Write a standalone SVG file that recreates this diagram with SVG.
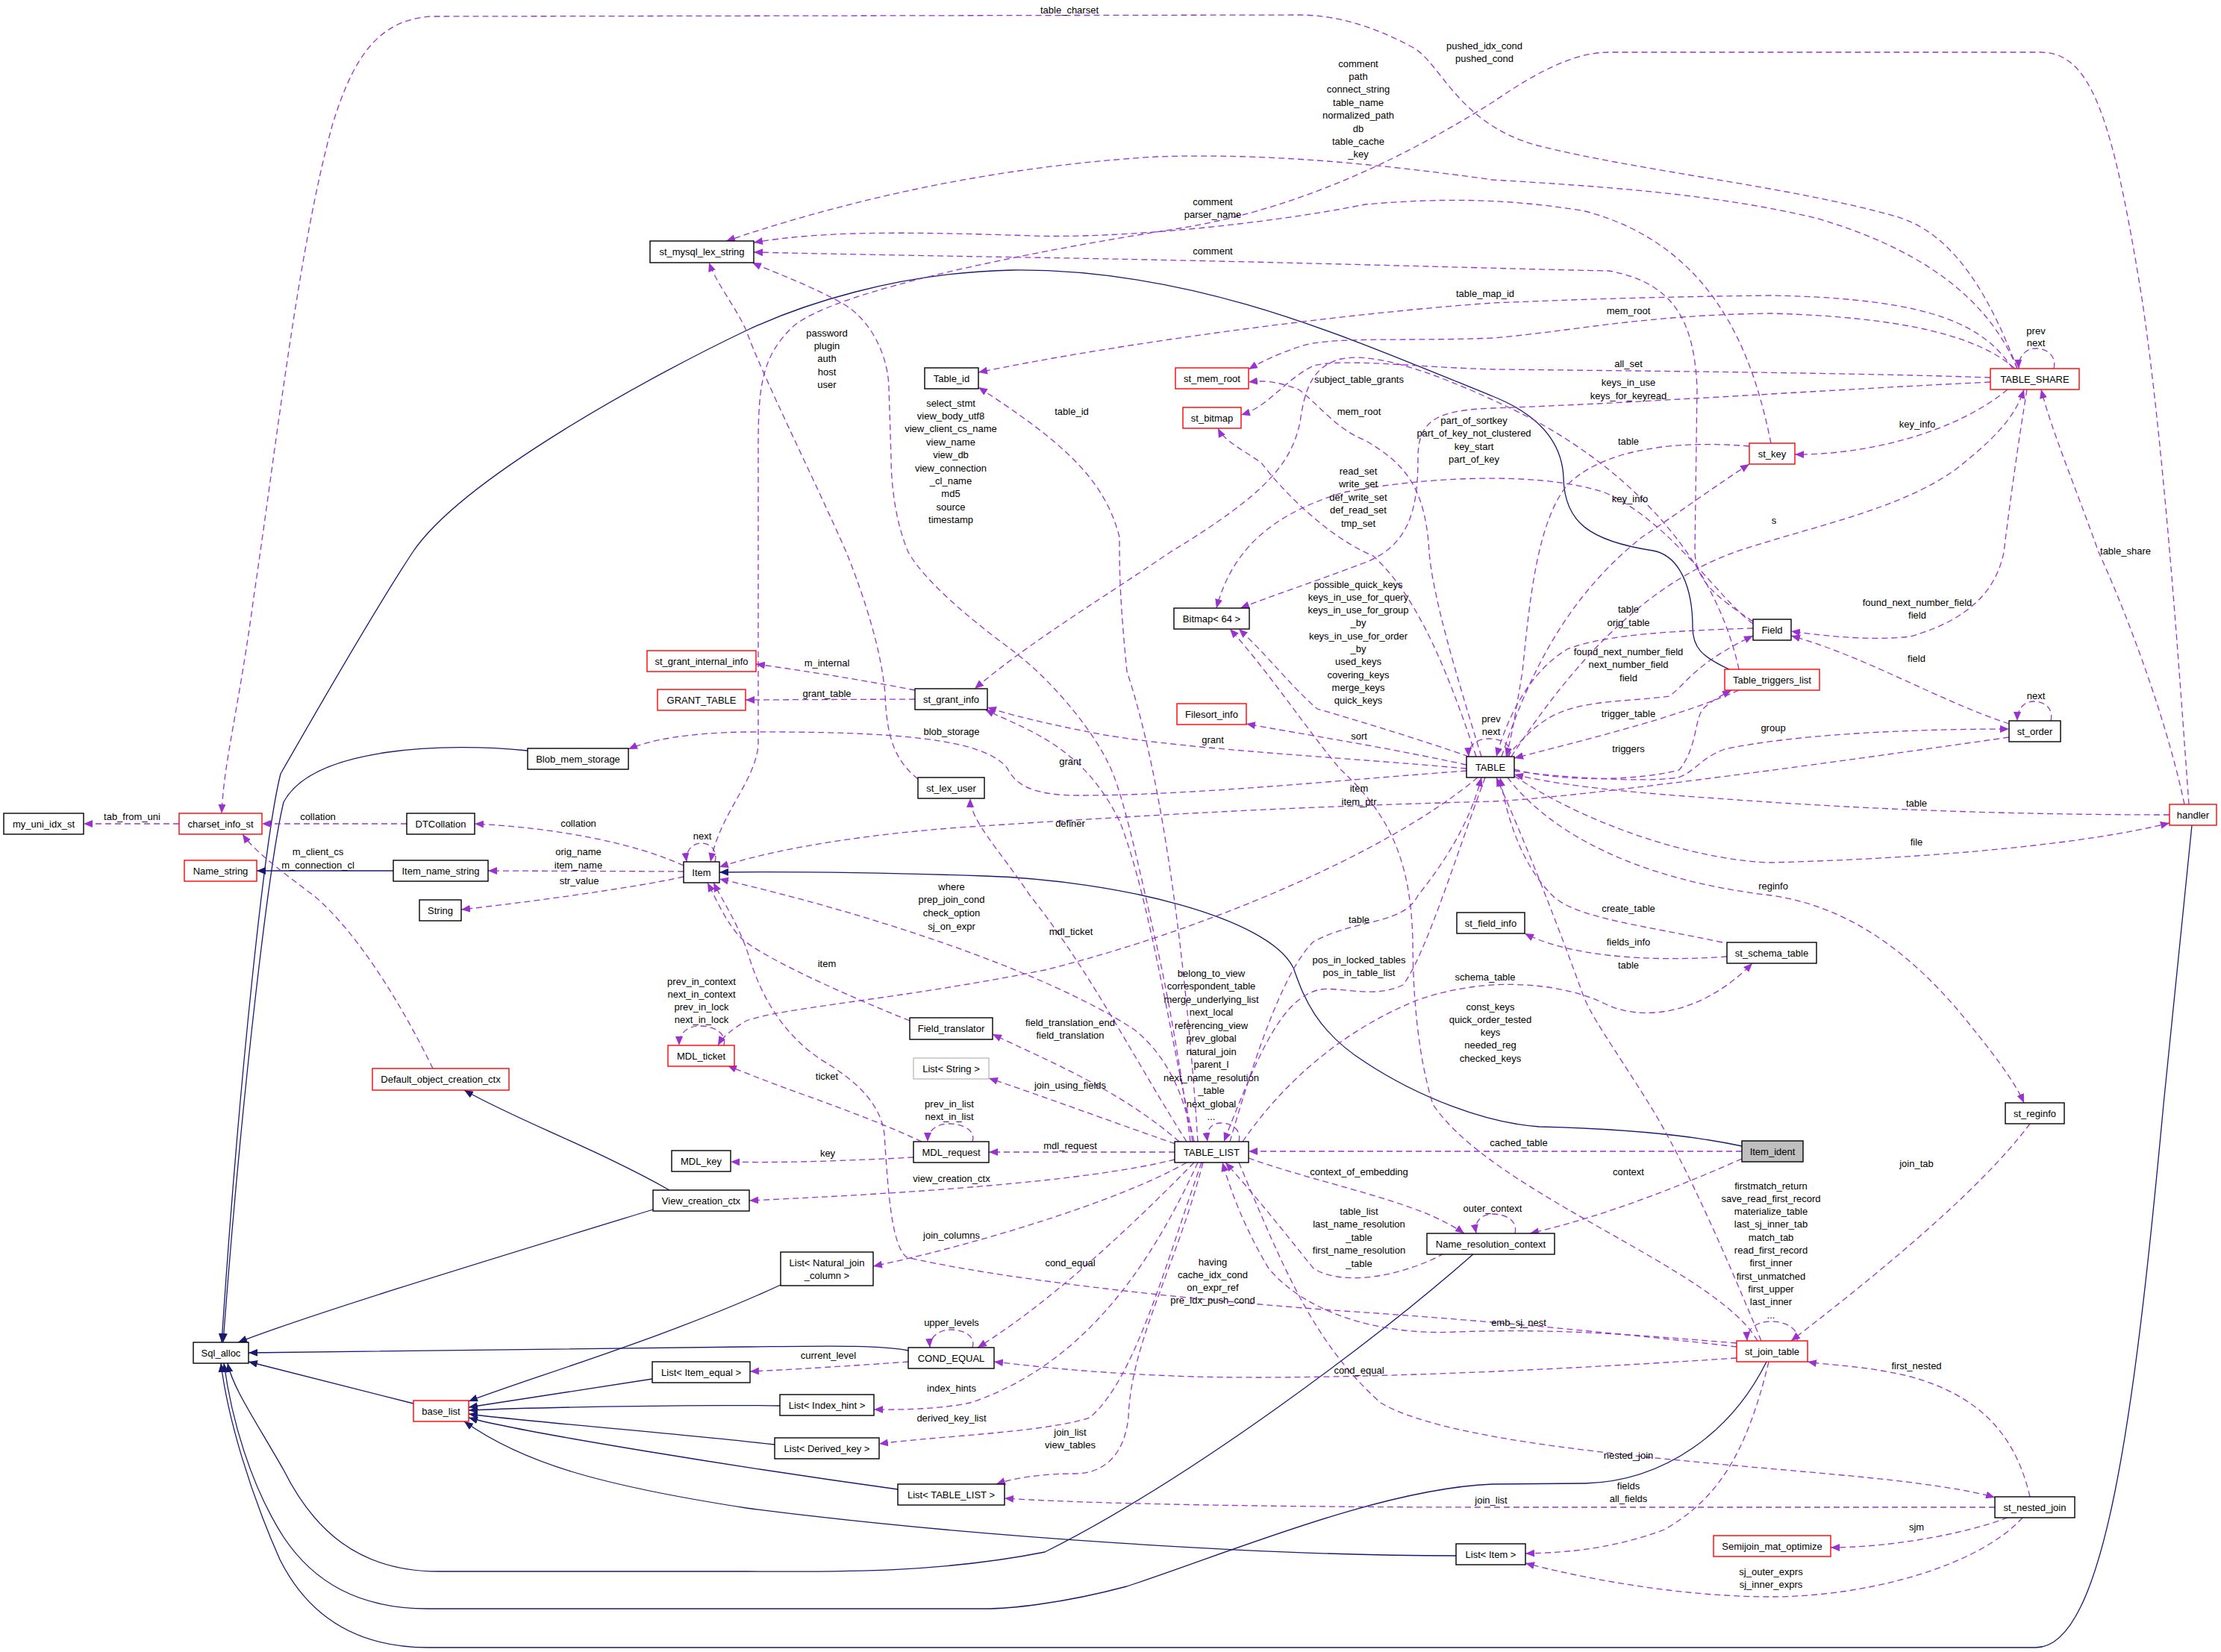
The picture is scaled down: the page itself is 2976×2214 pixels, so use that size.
<svg xmlns="http://www.w3.org/2000/svg" width="2976" height="2214" viewBox="0 0 2976 2214">
<style>
text{font-family:"Liberation Sans",Arial,Helvetica,sans-serif;font-size:13px;text-anchor:middle;fill:#000}
.n rect{fill:#fff;stroke:#000;stroke-width:1.4}
.n.r rect{stroke:#ff0000}
.n.g rect{stroke:#bfbfbf}
.n.f rect{fill:#bfbfbf}
.e{fill:none;stroke:#9a32cd;stroke-width:1.3;stroke-dasharray:8,5;marker-end:url(#ap)}
.i{fill:none;stroke:#191970;stroke-width:1.3;marker-end:url(#ab)}
</style>
<defs>
<marker id="ap" markerUnits="userSpaceOnUse" markerWidth="12" markerHeight="10" viewBox="0 0 12 10" refX="12" refY="5" orient="auto"><path d="M0,0 L12,5 L0,10 z" fill="#9a32cd"/></marker>
<marker id="ab" markerUnits="userSpaceOnUse" markerWidth="12" markerHeight="10" viewBox="0 0 12 10" refX="12" refY="5" orient="auto"><path d="M0,0 L12,5 L0,10 z" fill="#191970"/></marker>
</defs>
<rect width="2976" height="2214" fill="#fff"/>

<g id="connectors">
<path class="i" d="M2317,897 C2280,880 2268,868 2268,840 C2268,790 2252,745 2215,738 C2130,725 2096,700 2095,640 C2093,590 2060,555 2000,531 C1800,450 1600,360 1357,362 C1200,365 1070,410 1000,443 C880,500 620,640 553,740 C500,820 420,960 376,1037 C355,1120 320,1450 297,1799"/>
<path class="i" d="M707,1006 C600,995 420,1000 380,1075 C362,1150 325,1450 299,1799"/>
<path class="i" d="M527,1167 L344,1167"/>
<path class="i" d="M2334,1536 C2250,1518 2150,1512 2062,1510 C1990,1505 1900,1470 1830,1424 C1760,1380 1745,1330 1733,1297 C1700,1230 1500,1180 1319,1174 C1200,1170 1060,1168 964,1169"/>
<path class="i" d="M897,1595 C800,1540 690,1500 622,1461"/>
<path class="i" d="M875,1621 C650,1690 420,1760 319,1799"/>
<path class="i" d="M554,1881 L333,1825"/>
<path class="i" d="M1217,1810 C1180,1802 1100,1804 1000,1805 L333,1813"/>
<path class="i" d="M874,1848 L628,1886"/>
<path class="i" d="M1046,1722 C900,1790 700,1850 628,1878"/>
<path class="i" d="M1045,1884 C900,1882 700,1887 628,1890"/>
<path class="i" d="M1038,1936 C900,1920 700,1905 628,1895"/>
<path class="i" d="M1203,1996 C1000,1968 700,1920 628,1900"/>
<path class="i" d="M1951,2085 C1700,2085 1300,2060 1000,2021 C800,1990 700,1960 622,1905"/>
<path class="i" d="M1975,1680 C1850,1790 1600,1980 1400,2080 C1250,2110 1100,2106 1000,2106 L587,2106 C480,2106 420,2050 380,1970 C340,1900 312,1860 305,1827"/>
<path class="i" d="M2367,1825 C2320,1920 2230,1985 2124,1988 L2000,1989 C1850,1995 1650,2080 1510,2126 C1420,2150 1350,2156 1319,2156 L574,2156 C480,2156 420,2120 380,2060 C335,1990 310,1900 300,1827"/>
<path class="i" d="M2937,1106 L2899,1480 C2860,1900 2820,2208 2728,2208 L574,2208 C470,2208 410,2160 375,2090 C335,2000 305,1900 296,1827"/>

<path class="e" d="M2703,494 C2660,380 2610,310 2540,290 C2400,250 2200,230 2060,195 C1950,165 1930,80 1890,62 C1840,35 1790,20 1740,20 L580,22 C500,25 470,90 446,165 C400,330 370,600 340,800 C320,950 300,1020 297,1090"/>
<path class="e" d="M2933,1078 C2920,900 2900,600 2870,400 C2830,150 2800,70 2734,70 L2156,70 C2100,70 2040,110 2000,137 C1900,200 1750,280 1574,307 C1300,350 1100,400 1060,440 C1020,480 1016,520 1016,600 L1016,1000 C1010,1050 965,1090 952,1155"/>
<path class="e" d="M2703,494 C2660,390 2560,330 2436,293 C2300,260 2150,250 2000,241 C1850,220 1700,205 1550,210 C1300,225 1100,280 973,323"/>
<path class="e" d="M2373,594 C2350,480 2300,330 2124,283 C2000,262 1900,268 1829,274 C1700,300 1500,320 1383,316 C1200,310 1100,310 1010,325"/>
<path class="e" d="M2349,833 C2300,800 2273,780 2271,740 L2274,519 C2270,440 2250,380 2156,363 C2000,360 1700,350 1319,344 C1200,342 1100,340 1010,338"/>
<path class="e" d="M1230,1044 C1200,1020 1188,990 1186,930 C1180,860 1150,780 1134,740 C1090,640 1020,500 1000,443 C985,410 960,380 950,352"/>
<path class="e" d="M1595,1530 C1585,1450 1565,1330 1548,1259 C1530,1180 1505,1060 1485,1023 C1470,990 1420,920 1357,872 C1300,830 1240,780 1217,740 C1200,700 1194,650 1194,613 L1191,519 C1190,480 1170,430 1128,406 C1080,380 1030,362 1008,352"/>
<path class="e" d="M1605,1530 C1590,1300 1560,1050 1510,900 C1500,800 1500,760 1500,720 C1480,640 1420,590 1311,519"/>
<path class="e" d="M2697,494 C2660,440 2600,400 2373,396 C2200,398 2100,402 2000,406 C1800,420 1500,460 1311,499"/>
<path class="e" d="M2700,494 C2650,450 2550,425 2373,420 C2200,422 2100,445 2000,453 C1880,458 1780,450 1740,465 C1710,475 1690,485 1673,495"/>
<path class="e" d="M1985,1014 C1950,900 1920,800 1915,740 C1910,650 1880,620 1829,590 C1790,575 1765,540 1740,522 C1710,510 1690,510 1673,512"/>
<path class="e" d="M2667,506 C2500,500 2200,497 2000,495 C1900,492 1800,480 1760,490 C1720,510 1700,545 1663,556"/>
<path class="e" d="M2330,897 C2300,760 2200,640 2050,560 C1950,510 1850,470 1797,481 C1760,490 1748,520 1742,566 C1730,620 1700,660 1568,740 C1480,800 1380,860 1306,923"/>
<path class="e" d="M2667,512 C2400,525 2200,540 2000,547 C1930,550 1900,560 1900,613 C1900,680 1890,730 1829,754 C1760,780 1700,800 1662,815"/>
<path class="e" d="M1978,1014 C1940,900 1900,800 1840,745 C1780,720 1720,660 1690,620 C1660,600 1640,590 1632,574"/>
<path class="e" d="M2349,836 C2300,800 2240,700 2150,660 C2060,630 1900,640 1800,660 C1700,690 1650,740 1630,815"/>
<path class="e" d="M1968,1014 C1900,990 1800,960 1765,950 C1730,920 1700,880 1660,843"/>
<path class="e" d="M2355,1797 C2300,1700 2000,1600 1920,1480 C1895,1400 1893,1300 1893,1259 C1890,1150 1860,1090 1797,1032 C1760,990 1700,900 1648,843"/>
<path class="e" d="M1965,1025 C1850,1000 1750,985 1670,970"/>
<path class="e" d="M1965,1030 C1800,1015 1600,1005 1480,985 C1400,970 1350,957 1323,948"/>
<path class="e" d="M1965,1033 C1800,1045 1600,1066 1446,1066 C1380,1066 1360,1050 1350,1030 C1320,990 1200,980 1000,981 C920,982 870,992 842,1004"/>
<path class="e" d="M1600,1530 C1570,1400 1540,1200 1500,1100 C1450,1000 1380,980 1320,951"/>
<path class="e" d="M1590,1530 C1520,1420 1460,1300 1380,1200 C1340,1140 1300,1100 1300,1070"/>
<path class="e" d="M2692,988 C2400,1030 2100,1070 2000,1074 C1700,1082 1500,1095 1300,1108 C1150,1118 1030,1140 964,1162"/>
<path class="e" d="M1598,1530 C1590,1480 1570,1420 1520,1380 C1400,1300 1150,1220 964,1178"/>
<path class="e" d="M1219,1368 C1100,1320 1020,1280 995,1259 C975,1240 962,1210 948,1183"/>
<path class="e" d="M2327,1805 C2200,1790 2000,1770 1800,1757 C1500,1735 1300,1705 1215,1685 C1195,1670 1190,1600 1185,1520 C1180,1480 1150,1450 1100,1420 C1040,1380 1015,1320 1003,1280 C990,1240 970,1210 956,1183"/>
<path class="e" d="M1980,1042 C1850,1150 1600,1250 1400,1300 C1200,1340 1050,1350 1000,1368 C980,1380 968,1390 962,1401"/>
<path class="e" d="M1235,1530 C1150,1490 1050,1460 975,1428"/>
<path class="e" d="M970,1401 C974,1384 956,1375 938,1375 C920,1375 910,1385 910,1401"/>
<path class="e" d="M1303,1530 C1308,1515 1290,1506 1272,1506 C1255,1506 1243,1515 1243,1530"/>
<path class="e" d="M1224,1551 C1150,1555 1050,1559 979,1557"/>
<path class="e" d="M1574,1544 L1325,1544"/>
<path class="e" d="M1574,1554 C1450,1585 1200,1600 1004,1609"/>
<path class="e" d="M1580,1530 C1500,1460 1400,1420 1330,1386"/>
<path class="e" d="M1575,1533 C1480,1500 1400,1470 1325,1445"/>
<path class="e" d="M1660,1530 C1664,1512 1648,1505 1636,1505 C1622,1505 1616,1515 1618,1530"/>
<path class="e" d="M1648,1530 C1680,1420 1720,1300 1760,1262 C1820,1230 1880,1240 1900,1200 C1940,1150 1970,1100 1985,1042"/>
<path class="e" d="M1990,1042 C1950,1150 1910,1280 1880,1320 C1840,1340 1790,1320 1765,1327 C1720,1340 1690,1400 1640,1530"/>
<path class="e" d="M1665,1530 C1720,1450 1800,1380 1900,1340 C2000,1305 2100,1320 2150,1345 C2200,1370 2280,1360 2348,1291"/>
<path class="e" d="M2314,1282 C2200,1290 2100,1280 2043,1251"/>
<path class="e" d="M2308,1263 C2200,1240 2110,1230 2080,1200 C2040,1160 2020,1100 2010,1042"/>
<path class="e" d="M2360,1797 C2320,1700 2260,1560 2210,1480 C2160,1400 2130,1360 2120,1330 C2080,1220 2040,1120 2005,1042"/>
<path class="e" d="M2020,1042 C2080,1120 2200,1180 2373,1200 C2480,1215 2560,1280 2622,1352 C2670,1410 2700,1450 2712,1478"/>
<path class="e" d="M2720,1506 C2650,1600 2500,1720 2400,1797"/>
<path class="e" d="M2029,1040 C2150,1120 2300,1155 2373,1156 C2600,1150 2800,1130 2907,1103"/>
<path class="e" d="M2907,1092 C2700,1092 2500,1085 2300,1070 C2150,1060 2080,1050 2029,1038"/>
<path class="e" d="M2029,1033 C2070,1040 2200,1050 2249,1042 C2270,1035 2280,1015 2311,1004 C2400,985 2550,977 2692,977"/>
<path class="e" d="M2748,966 C2752,948 2738,940 2725,940 C2712,940 2703,950 2703,966"/>
<path class="e" d="M2692,970 C2600,940 2500,880 2400,852"/>
<path class="e" d="M2716,522 C2700,620 2690,700 2685,740 C2675,790 2640,830 2560,853 C2500,860 2430,850 2400,846"/>
<path class="e" d="M2349,842 C2250,845 2150,850 2100,870 C2050,900 2020,960 2005,1014"/>
<path class="e" d="M2019,1014 C2040,990 2062,966 2090,955 C2130,938 2187,940 2237,933 C2261,915 2270,890 2349,852"/>
<path class="e" d="M2330,925 C2250,960 2150,985 2029,1016"/>
<path class="e" d="M2029,1031 C2100,1050 2200,1045 2250,1032 C2275,1000 2270,965 2282,950 C2292,940 2305,933 2320,925"/>
<path class="e" d="M2022,1014 C2028,998 2012,990 1995,990 C1977,990 1967,1000 1968,1014"/>
<path class="e" d="M2012,1014 C2050,900 2100,800 2200,720 C2260,680 2300,650 2344,622"/>
<path class="e" d="M2344,598 C2250,590 2150,600 2100,650 C2060,700 2050,800 2040,900 C2030,960 2025,990 2018,1014"/>
<path class="e" d="M2690,522 C2620,580 2500,610 2405,609"/>
<path class="e" d="M2025,1014 C2100,900 2200,780 2336,736 C2450,700 2550,680 2622,628 C2670,590 2700,560 2712,522"/>
<path class="e" d="M2927,1078 C2900,950 2840,800 2812,740 C2780,650 2750,580 2735,522"/>
<path class="e" d="M2752,494 C2756,476 2742,467 2728,467 C2714,467 2704,478 2705,494"/>
<path class="e" d="M240,1104 L112,1104"/>
<path class="e" d="M545,1104 L351,1104"/>
<path class="e" d="M580,1432 C540,1350 480,1250 420,1200 C380,1170 340,1140 325,1118"/>
<path class="e" d="M916,1160 C850,1130 750,1110 636,1104"/>
<path class="e" d="M958,1155 C962,1140 952,1130 940,1130 C928,1130 918,1140 920,1155"/>
<path class="e" d="M916,1168 L654,1167"/>
<path class="e" d="M916,1175 C850,1190 700,1210 618,1219"/>
<path class="e" d="M1226,925 C1150,910 1050,895 1013,890"/>
<path class="e" d="M1226,937 L999,938"/>
<path class="e" d="M1590,1558 C1500,1610 1300,1670 1170,1697"/>
<path class="e" d="M1600,1558 C1500,1660 1400,1750 1310,1806"/>
<path class="e" d="M1303,1806 C1308,1790 1290,1782 1274,1782 C1258,1782 1245,1792 1246,1806"/>
<path class="e" d="M1217,1825 C1150,1830 1050,1836 1005,1838"/>
<path class="e" d="M2327,1820 C2100,1835 1800,1850 1600,1845 C1450,1840 1380,1830 1332,1825"/>
<path class="e" d="M1605,1558 C1540,1700 1450,1830 1300,1880 C1250,1890 1200,1889 1171,1889"/>
<path class="e" d="M1610,1558 C1560,1700 1520,1850 1460,1900 C1400,1920 1250,1925 1178,1935"/>
<path class="e" d="M1612,1558 C1575,1700 1515,1800 1512,1900 C1505,1960 1470,1975 1440,1975 C1400,1975 1360,1980 1335,1989"/>
<path class="e" d="M2673,2020 L2000,2020 C1700,2020 1450,2015 1346,2008"/>
<path class="e" d="M1660,1558 C1720,1700 1760,1800 1850,1880 C1950,1940 2300,1960 2500,1980 C2600,1990 2650,2000 2673,2007"/>
<path class="e" d="M1935,1680 C1880,1710 1800,1725 1760,1700 C1720,1650 1680,1600 1642,1558"/>
<path class="e" d="M1673,1552 C1750,1580 1850,1600 1920,1630 C1945,1642 1955,1648 1962,1653"/>
<path class="e" d="M2030,1653 C2034,1636 2018,1627 2000,1627 C1985,1627 1975,1637 1978,1653"/>
<path class="e" d="M2334,1553 C2250,1590 2150,1630 2050,1653"/>
<path class="e" d="M2334,1543 L1673,1543"/>
<path class="e" d="M2327,1800 C2200,1790 2100,1780 1950,1785 C1850,1790 1750,1760 1700,1700 C1670,1650 1650,1600 1638,1558"/>
<path class="e" d="M2408,1797 C2411,1780 2392,1771 2373,1771 C2355,1771 2340,1780 2341,1797"/>
<path class="e" d="M2720,2006 C2700,1920 2650,1870 2560,1845 C2500,1830 2450,1830 2422,1825"/>
<path class="e" d="M2370,1825 C2340,1950 2300,2010 2230,2050 C2150,2080 2080,2081 2044,2082"/>
<path class="e" d="M2690,2034 C2620,2060 2520,2074 2453,2074"/>
<path class="e" d="M2710,2034 C2650,2100 2500,2140 2373,2140 C2250,2140 2120,2115 2044,2095"/>
</g>

<g id="edge-labels">
<text x="1433" y="17.5">table_charset</text>
<text x="1989" y="65.5">pushed_idx_cond<tspan x="1989" dy="17.4">pushed_cond</tspan></text>
<text x="1820" y="89.5">comment<tspan x="1820" dy="17.4">path</tspan><tspan x="1820" dy="17.4">connect_string</tspan><tspan x="1820" dy="17.4">table_name</tspan><tspan x="1820" dy="17.4">normalized_path</tspan><tspan x="1820" dy="17.4">db</tspan><tspan x="1820" dy="17.4">table_cache</tspan><tspan x="1820" dy="17.4">_key</tspan></text>
<text x="1625" y="274.5">comment<tspan x="1625" dy="17.4">parser_name</tspan></text>
<text x="1625" y="340.5">comment</text>
<text x="1108" y="450.5">password<tspan x="1108" dy="17.4">plugin</tspan><tspan x="1108" dy="17.4">auth</tspan><tspan x="1108" dy="17.4">host</tspan><tspan x="1108" dy="17.4">user</tspan></text>
<text x="1436" y="555.5">table_id</text>
<text x="1274" y="544.5">select_stmt<tspan x="1274" dy="17.4">view_body_utf8</tspan><tspan x="1274" dy="17.4">view_client_cs_name</tspan><tspan x="1274" dy="17.4">view_name</tspan><tspan x="1274" dy="17.4">view_db</tspan><tspan x="1274" dy="17.4">view_connection</tspan><tspan x="1274" dy="17.4">_cl_name</tspan><tspan x="1274" dy="17.4">md5</tspan><tspan x="1274" dy="17.4">source</tspan><tspan x="1274" dy="17.4">timestamp</tspan></text>
<text x="1990" y="397.5">table_map_id</text>
<text x="2182" y="420.5">mem_root</text>
<text x="2182" y="491.5">all_set</text>
<text x="2182" y="516.5">keys_in_use<tspan x="2182" dy="18.5">keys_for_keyread</tspan></text>
<text x="1821" y="512.5">subject_table_grants</text>
<text x="1821" y="555.5">mem_root</text>
<text x="1975" y="567.5">part_of_sortkey<tspan x="1975" dy="17.6">part_of_key_not_clustered</tspan><tspan x="1975" dy="17.6">key_start</tspan><tspan x="1975" dy="17.6">part_of_key</tspan></text>
<text x="2182" y="595.5">table</text>
<text x="2184" y="672.5">key_info</text>
<text x="2569" y="572.5">key_info</text>
<text x="2377" y="701.5">s</text>
<text x="2728" y="447.5">prev<tspan x="2728" dy="16.5">next</tspan></text>
<text x="2848" y="742.5">table_share</text>
<text x="1820" y="635.5">read_set<tspan x="1820" dy="17.5">write_set</tspan><tspan x="1820" dy="17.5">def_write_set</tspan><tspan x="1820" dy="17.5">def_read_set</tspan><tspan x="1820" dy="17.5">tmp_set</tspan></text>
<text x="1820" y="787.5">possible_quick_keys<tspan x="1820" dy="17.3">keys_in_use_for_query</tspan><tspan x="1820" dy="17.3">keys_in_use_for_group</tspan><tspan x="1820" dy="17.3">_by</tspan><tspan x="1820" dy="17.3">keys_in_use_for_order</tspan><tspan x="1820" dy="17.3">_by</tspan><tspan x="1820" dy="17.3">used_keys</tspan><tspan x="1820" dy="17.3">covering_keys</tspan><tspan x="1820" dy="17.3">merge_keys</tspan><tspan x="1820" dy="17.3">quick_keys</tspan></text>
<text x="1998" y="967.5">prev<tspan x="1998" dy="17">next</tspan></text>
<text x="2569" y="811.5">found_next_number_field<tspan x="2569" dy="17.5">field</tspan></text>
<text x="2182" y="820.5">table<tspan x="2182" dy="18">orig_table</tspan></text>
<text x="2182" y="877.5">found_next_number_field<tspan x="2182" dy="17.5">next_number_field</tspan><tspan x="2182" dy="17.5">field</tspan></text>
<text x="2568" y="886.5">field</text>
<text x="2182" y="960.5">trigger_table</text>
<text x="2182" y="1007.5">triggers</text>
<text x="2728" y="936.5">next</text>
<text x="2376" y="979.5">group</text>
<text x="2568" y="1080.5">table</text>
<text x="2568" y="1132.5">file</text>
<text x="2376" y="1191.5">reginfo</text>
<text x="2182" y="1221.5">create_table</text>
<text x="2182" y="1266.5">fields_info</text>
<text x="2182" y="1297.5">table</text>
<text x="1990" y="1313.5">schema_table</text>
<text x="1997" y="1353.5">const_keys<tspan x="1997" dy="17.3">quick_order_tested</tspan><tspan x="1997" dy="17.3">keys</tspan><tspan x="1997" dy="17.3">needed_reg</tspan><tspan x="1997" dy="17.3">checked_keys</tspan></text>
<text x="1821" y="1060.5">item<tspan x="1821" dy="18.5">item_ptr</tspan></text>
<text x="1434" y="1107.5">definer</text>
<text x="1625" y="995.5">grant</text>
<text x="1434" y="1024.5">grant</text>
<text x="1821" y="990.5">sort</text>
<text x="1275" y="984.5">blob_storage</text>
<text x="1108" y="892.5">m_internal</text>
<text x="1108" y="933.5">grant_table</text>
<text x="177" y="1098.5">tab_from_uni</text>
<text x="426" y="1098.5">collation</text>
<text x="775" y="1107.5">collation</text>
<text x="941" y="1124.5">next</text>
<text x="775" y="1145.5">orig_name<tspan x="775" dy="18">item_name</tspan></text>
<text x="426" y="1145.5">m_client_cs<tspan x="426" dy="18">m_connection_cl</tspan></text>
<text x="776" y="1184.5">str_value</text>
<text x="1275" y="1192.5">where<tspan x="1275" dy="17.7">prep_join_cond</tspan><tspan x="1275" dy="17.7">check_option</tspan><tspan x="1275" dy="17.7">sj_on_expr</tspan></text>
<text x="1435" y="1252.5">mdl_ticket</text>
<text x="1108" y="1295.5">item</text>
<text x="1108" y="1446.5">ticket</text>
<text x="940" y="1319.5">prev_in_context<tspan x="940" dy="17.3">next_in_context</tspan><tspan x="940" dy="17.3">prev_in_lock</tspan><tspan x="940" dy="17.3">next_in_lock</tspan></text>
<text x="1434" y="1374.5">field_translation_end<tspan x="1434" dy="17.3">field_translation</tspan></text>
<text x="1434" y="1458.5">join_using_fields</text>
<text x="1623" y="1308.5">belong_to_view<tspan x="1623" dy="17.5">correspondent_table</tspan><tspan x="1623" dy="17.5">merge_underlying_list</tspan><tspan x="1623" dy="17.5">next_local</tspan><tspan x="1623" dy="17.5">referencing_view</tspan><tspan x="1623" dy="17.5">prev_global</tspan><tspan x="1623" dy="17.5">natural_join</tspan><tspan x="1623" dy="17.5">parent_l</tspan><tspan x="1623" dy="17.5">next_name_resolution</tspan><tspan x="1623" dy="17.5">_table</tspan><tspan x="1623" dy="17.5">next_global</tspan><tspan x="1623" dy="17.5">...</tspan></text>
<text x="1821" y="1236.5">table</text>
<text x="1821" y="1290.5">pos_in_locked_tables<tspan x="1821" dy="17.5">pos_in_table_list</tspan></text>
<text x="1272" y="1483.5">prev_in_list<tspan x="1272" dy="17">next_in_list</tspan></text>
<text x="1109" y="1549.5">key</text>
<text x="1434" y="1539.5">mdl_request</text>
<text x="1275" y="1583.5">view_creation_ctx</text>
<text x="2035" y="1535.5">cached_table</text>
<text x="1821" y="1574.5">context_of_embedding</text>
<text x="2000" y="1623.5">outer_context</text>
<text x="2182" y="1574.5">context</text>
<text x="1275" y="1659.5">join_columns</text>
<text x="1821" y="1627.5">table_list<tspan x="1821" dy="17.5">last_name_resolution</tspan><tspan x="1821" dy="17.5">_table</tspan><tspan x="1821" dy="17.5">first_name_resolution</tspan><tspan x="1821" dy="17.5">_table</tspan></text>
<text x="1434" y="1696.5">cond_equal</text>
<text x="1625" y="1695.5">having<tspan x="1625" dy="17.3">cache_idx_cond</tspan><tspan x="1625" dy="17.3">on_expr_ref</tspan><tspan x="1625" dy="17.3">pre_idx_push_cond</tspan></text>
<text x="2035" y="1776.5">emb_sj_nest</text>
<text x="1275" y="1776.5">upper_levels</text>
<text x="1110" y="1820.5">current_level</text>
<text x="1821" y="1840.5">cond_equal</text>
<text x="1275" y="1864.5">index_hints</text>
<text x="1275" y="1904.5">derived_key_list</text>
<text x="1434" y="1923.5">join_list<tspan x="1434" dy="17.3">view_tables</tspan></text>
<text x="2373" y="1593.5">firstmatch_return<tspan x="2373" dy="17.3">save_read_first_record</tspan><tspan x="2373" dy="17.3">materialize_table</tspan><tspan x="2373" dy="17.3">last_sj_inner_tab</tspan><tspan x="2373" dy="17.3">match_tab</tspan><tspan x="2373" dy="17.3">read_first_record</tspan><tspan x="2373" dy="17.3">first_inner</tspan><tspan x="2373" dy="17.3">first_unmatched</tspan><tspan x="2373" dy="17.3">first_upper</tspan><tspan x="2373" dy="17.3">last_inner</tspan><tspan x="2373" dy="17.3">...</tspan></text>
<text x="2568" y="1563.5">join_tab</text>
<text x="2568" y="1834.5">first_nested</text>
<text x="2182" y="1954.5">nested_join</text>
<text x="2182" y="1995.5">fields<tspan x="2182" dy="17.3">all_fields</tspan></text>
<text x="1998" y="2014.5">join_list</text>
<text x="2568" y="2050.5">sjm</text>
<text x="2373" y="2110.5">sj_outer_exprs<tspan x="2373" dy="17.3">sj_inner_exprs</tspan></text>
</g>

<g id="nodes">
<g id="n-st_mysql_lex_string" class="n"><rect x="871" y="323" width="139" height="29"/><text x="940.5" y="342">st_mysql_lex_string</text></g>
<g id="n-Table_id" class="n"><rect x="1239" y="493" width="72" height="28"/><text x="1275" y="511.5">Table_id</text></g>
<g id="n-st_mem_root" class="n r"><rect x="1575" y="493" width="98" height="28"/><text x="1624" y="511.5">st_mem_root</text></g>
<g id="n-st_bitmap" class="n r"><rect x="1585" y="546" width="78" height="28"/><text x="1624" y="564.5">st_bitmap</text></g>
<g id="n-TABLE_SHARE" class="n r"><rect x="2667" y="494" width="119" height="28"/><text x="2726.5" y="512.5">TABLE_SHARE</text></g>
<g id="n-st_key" class="n r"><rect x="2344" y="594" width="61" height="28"/><text x="2374.5" y="612.5">st_key</text></g>
<g id="n-my_uni_idx_st" class="n"><rect x="5" y="1090" width="107" height="28"/><text x="58.5" y="1108.5">my_uni_idx_st</text></g>
<g id="n-charset_info_st" class="n r"><rect x="240" y="1090" width="111" height="28"/><text x="295.5" y="1108.5">charset_info_st</text></g>
<g id="n-Name_string" class="n r"><rect x="247" y="1153" width="97" height="28"/><text x="295.5" y="1171.5">Name_string</text></g>
<g id="n-DTCollation" class="n"><rect x="545" y="1090" width="91" height="28"/><text x="590.5" y="1108.5">DTCollation</text></g>
<g id="n-Item_name_string" class="n"><rect x="527" y="1153" width="127" height="28"/><text x="590.5" y="1171.5">Item_name_string</text></g>
<g id="n-String" class="n"><rect x="562" y="1206" width="56" height="28"/><text x="590" y="1224.5">String</text></g>
<g id="n-Item" class="n"><rect x="916" y="1155" width="48" height="28"/><text x="940" y="1173.5">Item</text></g>
<g id="n-st_grant_internal_info" class="n r"><rect x="867" y="872" width="146" height="28"/><text x="940" y="890.5">st_grant_internal_info</text></g>
<g id="n-GRANT_TABLE" class="n r"><rect x="881" y="924" width="118" height="28"/><text x="940" y="942.5">GRANT_TABLE</text></g>
<g id="n-Blob_mem_storage" class="n"><rect x="707" y="1003" width="135" height="28"/><text x="774.5" y="1021.5">Blob_mem_storage</text></g>
<g id="n-MDL_ticket" class="n r"><rect x="895" y="1401" width="89" height="28"/><text x="939.5" y="1419.5">MDL_ticket</text></g>
<g id="n-Default_object_creation_ctx" class="n r"><rect x="499" y="1432" width="183" height="29"/><text x="590.5" y="1451">Default_object_creation_ctx</text></g>
<g id="n-st_grant_info" class="n"><rect x="1226" y="923" width="97" height="28"/><text x="1274.5" y="941.5">st_grant_info</text></g>
<g id="n-Bitmap64" class="n"><rect x="1573" y="815" width="101" height="28"/><text x="1623.5" y="833.5">Bitmap&lt; 64 &gt;</text></g>
<g id="n-Filesort_info" class="n r"><rect x="1577" y="943" width="93" height="28"/><text x="1623.5" y="961.5">Filesort_info</text></g>
<g id="n-st_lex_user" class="n"><rect x="1230" y="1042" width="89" height="28"/><text x="1274.5" y="1060.5">st_lex_user</text></g>
<g id="n-TABLE" class="n"><rect x="1965" y="1014" width="64" height="28"/><text x="1997" y="1032.5">TABLE</text></g>
<g id="n-Field_translator" class="n"><rect x="1219" y="1364" width="111" height="29"/><text x="1274.5" y="1383">Field_translator</text></g>
<g id="n-List_String" class="n g"><rect x="1224" y="1418" width="101" height="28"/><text x="1274.5" y="1436.5">List&lt; String &gt;</text></g>
<g id="n-st_field_info" class="n"><rect x="1952" y="1223" width="91" height="28"/><text x="1997.5" y="1241.5">st_field_info</text></g>
<g id="n-Field" class="n"><rect x="2349" y="830" width="51" height="28"/><text x="2374.5" y="848.5">Field</text></g>
<g id="n-Table_triggers_list" class="n r"><rect x="2311" y="897" width="127" height="28"/><text x="2374.5" y="915.5">Table_triggers_list</text></g>
<g id="n-st_order" class="n"><rect x="2692" y="966" width="69" height="28"/><text x="2726.5" y="984.5">st_order</text></g>
<g id="n-handler" class="n r"><rect x="2907" y="1078" width="63" height="28"/><text x="2938.5" y="1096.5">handler</text></g>
<g id="n-st_schema_table" class="n"><rect x="2314" y="1263" width="120" height="28"/><text x="2374" y="1281.5">st_schema_table</text></g>
<g id="n-st_reginfo" class="n"><rect x="2687" y="1478" width="79" height="28"/><text x="2726.5" y="1496.5">st_reginfo</text></g>
<g id="n-Item_ident" class="n f"><rect x="2334" y="1529" width="82" height="28"/><text x="2375" y="1547.5">Item_ident</text></g>
<g id="n-st_join_table" class="n r"><rect x="2327" y="1797" width="95" height="28"/><text x="2374.5" y="1815.5">st_join_table</text></g>
<g id="n-st_nested_join" class="n"><rect x="2673" y="2006" width="107" height="28"/><text x="2726.5" y="2024.5">st_nested_join</text></g>
<g id="n-Semijoin_mat_optimize" class="n r"><rect x="2296" y="2058" width="157" height="28"/><text x="2374.5" y="2076.5">Semijoin_mat_optimize</text></g>
<g id="n-Name_resolution_context" class="n"><rect x="1912" y="1653" width="171" height="28"/><text x="1997.5" y="1671.5">Name_resolution_context</text></g>
<g id="n-TABLE_LIST" class="n"><rect x="1574" y="1530" width="99" height="28"/><text x="1623.5" y="1548.5">TABLE_LIST</text></g>
<g id="n-MDL_request" class="n"><rect x="1224" y="1530" width="101" height="28"/><text x="1274.5" y="1548.5">MDL_request</text></g>
<g id="n-MDL_key" class="n"><rect x="900" y="1542" width="79" height="28"/><text x="939.5" y="1560.5">MDL_key</text></g>
<g id="n-View_creation_ctx" class="n"><rect x="875" y="1595" width="129" height="28"/><text x="939.5" y="1613.5">View_creation_ctx</text></g>
<g id="n-List_Natural_join_column" class="n"><rect x="1046" y="1678" width="124" height="45"/><text x="1108" y="1696.5">List&lt; Natural_join<tspan x="1108" dy="17">_column &gt;</tspan></text></g>
<g id="n-COND_EQUAL" class="n"><rect x="1217" y="1806" width="115" height="28"/><text x="1274.5" y="1824.5">COND_EQUAL</text></g>
<g id="n-List_Item_equal" class="n"><rect x="874" y="1825" width="131" height="28"/><text x="939.5" y="1843.5">List&lt; Item_equal &gt;</text></g>
<g id="n-List_Index_hint" class="n"><rect x="1045" y="1869" width="126" height="28"/><text x="1108" y="1887.5">List&lt; Index_hint &gt;</text></g>
<g id="n-List_Derived_key" class="n"><rect x="1038" y="1927" width="140" height="28"/><text x="1108" y="1945.5">List&lt; Derived_key &gt;</text></g>
<g id="n-List_TABLE_LIST" class="n"><rect x="1203" y="1989" width="143" height="28"/><text x="1274.5" y="2007.5">List&lt; TABLE_LIST &gt;</text></g>
<g id="n-List_Item" class="n"><rect x="1951" y="2069" width="93" height="28"/><text x="1997.5" y="2087.5">List&lt; Item &gt;</text></g>
<g id="n-Sql_alloc" class="n"><rect x="259" y="1799" width="74" height="28"/><text x="296" y="1817.5">Sql_alloc</text></g>
<g id="n-base_list" class="n r"><rect x="554" y="1877" width="74" height="28"/><text x="591" y="1895.5">base_list</text></g>
</g>
</svg>
